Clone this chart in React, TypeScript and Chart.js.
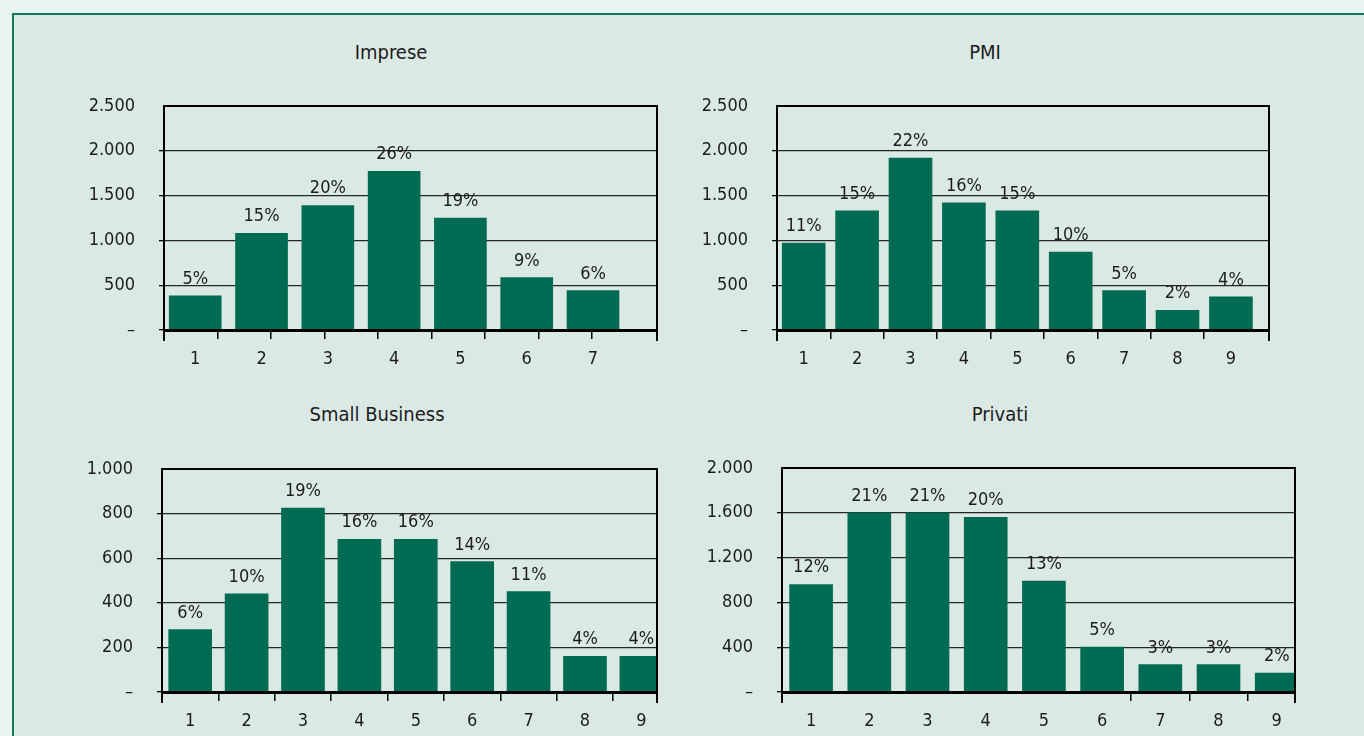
import React, { useEffect, useRef } from 'react';
import { Chart, registerables } from 'chart.js';

Chart.register(...registerables);

// ---------- DATA ----------
const impreseCategories = ['1', '2', '3', '4', '5', '6', '7'];
const impreseValues = [380, 1080, 1390, 1770, 1250, 585, 440];
const impresePercents = ['5%', '15%', '20%', '26%', '19%', '9%', '6%'];
const impreseYTicks = [0, 500, 1000, 1500, 2000, 2500];
const impreseTickMarks = [1, 2, 3, 4, 5, 6, 7, 8];

const pmiCategories = ['1', '2', '3', '4', '5', '6', '7', '8', '9'];
const pmiValues = [970, 1330, 1920, 1420, 1330, 870, 440, 220, 370];
const pmiPercents = ['11%', '15%', '22%', '16%', '15%', '10%', '5%', '2%', '4%'];
const pmiYTicks = [0, 500, 1000, 1500, 2000, 2500];
const pmiTickMarks = [1, 2, 3, 4, 5, 6, 7, 8];

const smallCategories = ['1', '2', '3', '4', '5', '6', '7', '8', '9'];
const smallValues = [280, 440, 825, 685, 685, 585, 450, 160, 160];
const smallPercents = ['6%', '10%', '19%', '16%', '16%', '14%', '11%', '4%', '4%'];
const smallYTicks = [0, 200, 400, 600, 800, 1000];
const smallTickMarks = [1, 2, 3, 4, 5, 6, 7, 8];

const privatiCategories = ['1', '2', '3', '4', '5', '6', '7', '8', '9'];
const privatiValues = [960, 1600, 1600, 1560, 990, 400, 245, 245, 170];
const privatiPercents = ['12%', '21%', '21%', '20%', '13%', '5%', '3%', '3%', '2%'];
const privatiYTicks = [0, 400, 800, 1200, 1600, 2000];
const privatiTickMarks = [6, 7, 8];

// ---------- STYLE / LAYOUT ----------
const FONT = "'DejaVu Sans Condensed', 'Liberation Sans Narrow', 'DejaVu Sans', sans-serif";
const BAR = '#006b53';
const TEXT = '#1c1c1c';
const Y_AXIS_W = 90;
const X_AXIS_H = 45;
const PAD_TOP = 40;
const PAD_RIGHT = 20;

const PANELS = [
  {
    title: 'Imprese', categories: impreseCategories, values: impreseValues, percents: impresePercents,
    yTicks: impreseYTicks, tickMarks: impreseTickMarks,
    area: { left: 164, right: 657, top: 106, bottom: 330 },
    barMin: 0.529, barMax: 7.965, slotMax: 9.215, barWidth: 52, titleX: 391, titleBase: 59,
  },
  {
    title: 'PMI', categories: pmiCategories, values: pmiValues, percents: pmiPercents,
    yTicks: pmiYTicks, tickMarks: pmiTickMarks,
    area: { left: 777, right: 1269, top: 106, bottom: 330 },
    barMin: 0.5, barMax: 9.713, slotMax: 9.213, barWidth: 43, titleX: 985, titleBase: 59,
  },
  {
    title: 'Small Business', categories: smallCategories, values: smallValues, percents: smallPercents,
    yTicks: smallYTicks, tickMarks: smallTickMarks,
    area: { left: 162, right: 657, top: 469, bottom: 692 },
    barMin: 0.5, barMax: 9.277, slotMax: 8.777, barWidth: 43, titleX: 377, titleBase: 421,
  },
  {
    title: 'Privati', categories: privatiCategories, values: privatiValues, percents: privatiPercents,
    yTicks: privatiYTicks, tickMarks: privatiTickMarks,
    area: { left: 782, right: 1295, top: 468, bottom: 692 },
    barMin: 0.5, barMax: 9.314, slotMax: 8.814, barWidth: 43, titleX: 1000, titleBase: 421,
  },
];

const fmt = (v: number) =>
  v === 0 ? '–' : String(v).replace(/\B(?=(\d{3})+(?!\d))/g, '.');

const framePlugin = {
  id: 'frame',
  afterDraw(chart: any) {
    const { ctx, chartArea: a } = chart;
    ctx.save();
    ctx.strokeStyle = '#000';
    ctx.lineWidth = 2;
    ctx.beginPath();
    ctx.moveTo(a.left, a.top - 1);
    ctx.lineTo(a.left, a.bottom + 11);
    ctx.moveTo(a.right, a.top - 1);
    ctx.lineTo(a.right, a.bottom + 11);
    ctx.stroke();
    ctx.restore();
  },
};

const pctPlugin = {
  id: 'pct',
  afterDatasetsDraw(chart: any, _args: any, opts: any) {
    const meta = chart.getDatasetMeta(0);
    const ctx = chart.ctx;
    ctx.save();
    ctx.font = `18px ${FONT}`;
    ctx.fillStyle = TEXT;
    ctx.textAlign = 'center';
    ctx.textBaseline = 'alphabetic';
    meta.data.forEach((el: any, i: number) => {
      ctx.fillText(opts.labels[i], el.x, el.y - 12);
    });
    ctx.restore();
  },
};

function makeConfig(p: any): any {
  const yMax = p.yTicks[p.yTicks.length - 1];
  const font = { family: FONT, size: 18 };
  return {
    type: 'bar',
    data: {
      datasets: [
        {
          data: p.categories.map((c: string, i: number) => ({ x: Number(c), y: p.values[i] })),
          backgroundColor: BAR,
          borderWidth: 0,
          barThickness: p.barWidth,
        },
      ],
    },
    plugins: [framePlugin, pctPlugin],
    options: {
      animation: false,
      responsive: false,
      devicePixelRatio: 1,
      layout: { padding: { left: 0, top: PAD_TOP, right: PAD_RIGHT, bottom: 0 } },
      plugins: {
        legend: { display: false },
        title: { display: false },
        tooltip: { enabled: false },
        pct: { labels: p.percents },
      },
      scales: {
        x: {
          type: 'linear',
          position: 'bottom',
          weight: 1,
          offset: false,
          min: p.barMin,
          max: p.barMax,
          afterBuildTicks: (s: any) => {
            s.ticks = p.categories.map((c: string) => ({ value: Number(c) }));
          },
          ticks: {
            callback: (_v: any, i: number) => p.categories[i],
            font,
            color: TEXT,
            padding: 19,
            autoSkip: false,
            maxRotation: 0,
          },
          grid: { display: false, drawTicks: false },
          border: { display: true, color: '#000', width: 3, z: 1 },
          afterFit: (s: any) => {
            s.height = X_AXIS_H;
          },
        },
        xt: {
          type: 'linear',
          position: 'bottom',
          weight: 0,
          offset: false,
          min: 0,
          max: p.slotMax,
          afterBuildTicks: (s: any) => {
            s.ticks = p.tickMarks.map((v: number) => ({ value: v }));
          },
          ticks: { display: false },
          grid: {
            offset: false,
            drawOnChartArea: false,
            drawTicks: true,
            tickLength: 9,
            color: '#000',
            lineWidth: 1.5,
            z: 1,
          },
          border: { display: false },
          afterFit: (s: any) => {
            s.height = 0;
          },
        },
        y: {
          min: 0,
          max: yMax,
          afterBuildTicks: (s: any) => {
            s.ticks = p.yTicks.map((v: number) => ({ value: v }));
          },
          ticks: { callback: (v: number) => fmt(v), font, color: TEXT, padding: 24 },
          grid: {
            color: (c: any) => (c.tick && c.tick.value === yMax ? '#000' : '#262626'),
            lineWidth: (c: any) => (c.tick && c.tick.value === yMax ? 2 : 1.3),
            tickLength: 5,
            tickColor: (c: any) => (c.tick && c.tick.value === yMax ? 'rgba(0,0,0,0)' : '#000'),
          },
          border: { display: false },
          afterFit: (s: any) => {
            s.width = Y_AXIS_W;
          },
        },
      },
    },
  };
}

function Panel({ p }: { p: any }) {
  const ref = useRef<HTMLCanvasElement>(null);
  useEffect(() => {
    const chart = new Chart(ref.current as HTMLCanvasElement, makeConfig(p));
    return () => chart.destroy();
  }, [p]);
  const x0 = p.area.left - Y_AXIS_W;
  const y0 = p.area.top - PAD_TOP;
  const w = p.area.right + PAD_RIGHT - x0;
  const h = p.area.bottom + X_AXIS_H - y0;
  return (
    <>
      <div
        style={{
          position: 'absolute',
          left: p.titleX - 150,
          top: p.titleBase - 19,
          width: 300,
          textAlign: 'center',
          fontFamily: "'DejaVu Sans', sans-serif",
          fontStretch: 'condensed',
          fontSize: 20,
          lineHeight: '24px',
          color: TEXT,
          whiteSpace: 'nowrap',
        }}
      >
        {p.title}
      </div>
      <canvas
        ref={ref}
        width={w}
        height={h}
        style={{ position: 'absolute', left: x0, top: y0, width: w, height: h }}
      />
    </>
  );
}

export default function App() {
  return (
    <div
      style={{
        position: 'fixed',
        left: 0,
        top: 0,
        width: 1364,
        height: 736,
        overflow: 'hidden',
        background: '#eaf3f1',
      }}
    >
      <div
        style={{
          position: 'absolute',
          left: 12,
          top: 13,
          width: 1420,
          height: 800,
          background: '#dbe9e5',
          borderLeft: '2px solid #157a5d',
          borderTop: '2px solid #157a5d',
        }}
      />
      {PANELS.map((p) => (
        <Panel key={p.title} p={p} />
      ))}
    </div>
  );
}
